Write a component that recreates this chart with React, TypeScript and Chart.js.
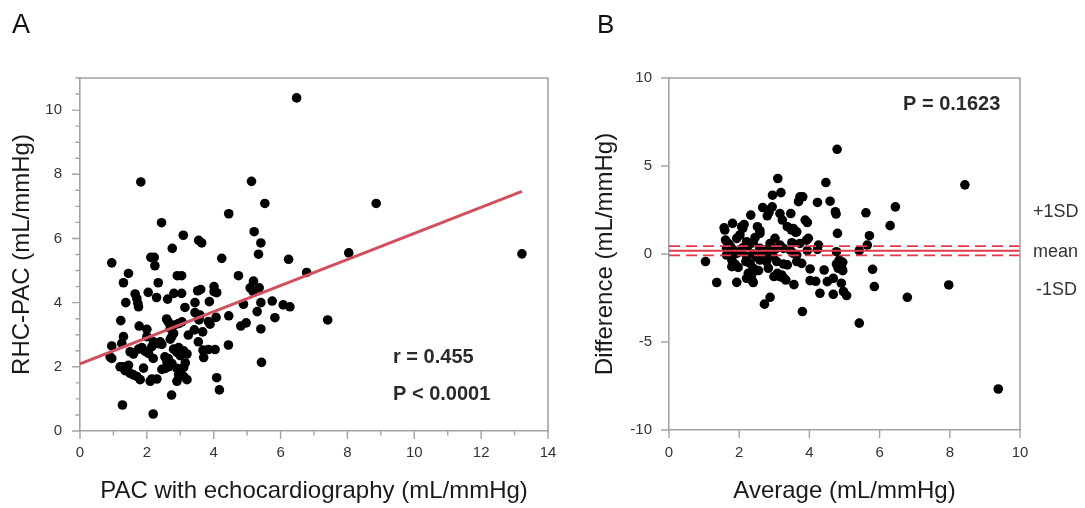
import React, { useEffect, useRef } from "react";
import { Chart, registerables } from "chart.js";

Chart.register(...registerables);

const FONT = "'Liberation Sans', Arial, Helvetica, sans-serif";

// ---------- Panel A: correlation ----------
const echoPAC = [
  6.48, 1.82, 5.13, 5.53, 4.45, 2.44, 5.21, 3.09, 3.55, 3.64, 5.41, 2.76, 8.86, 8.04, 6.78, 7.41, 13.22,
  5.34, 0.95, 2.12, 2.22, 2.24, 4.24, 6.24, 1.45, 1.3, 2.34, 2.91, 3.04, 4.74, 5.19, 1.65, 1.7, 1.73,
  1.75, 1.37, 2.04, 2.29, 2.62, 2.81, 3.04, 3.14, 3.44, 3.52, 3.61, 3.87, 4.01, 4.01, 4.09, 5.09, 5.18,
  5.36, 4.89, 5.41, 5.75, 6.08, 6.28, 5.3, 5.83, 5.41, 4.45, 4.07, 3.84, 3.59, 3.55, 4.81, 4.97, 1.22,
  1.77, 2.0, 2.59, 2.64, 2.7, 2.82, 2.95, 3.05, 3.42, 3.67, 3.24, 3.54, 1.3, 1.25, 2.0, 2.15, 2.35, 2.4,
  2.7, 2.75, 2.8, 0.95, 0.9, 0.95, 1.5, 1.6, 1.75, 1.85, 1.95, 2.05, 2.19, 2.54, 2.64, 2.8, 2.9, 2.95,
  3.0, 3.1, 3.2, 3.68, 3.7, 3.84, 4.04, 4.44, 1.2, 1.28, 1.4, 1.35, 1.5, 1.6, 1.7, 1.8, 1.9, 2.1, 2.15,
  2.3, 2.45, 2.65, 2.75, 2.9, 3.1, 3.1, 3.2, 2.9, 2.74, 4.09, 4.17, 5.43, 1.27, 2.19, 3.44, 3.89, 2.45,
  2.55, 2.95, 2.6, 3.15, 1.45, 2.2, 3.56
];
const rhcPAC = [
  10.38, 7.76, 7.78, 7.09, 6.77, 6.49, 6.21, 6.1, 5.94, 5.86, 5.86, 5.69, 7.09, 5.55, 4.94, 3.46, 5.52,
  5.51, 5.24, 5.41, 5.41, 5.15, 5.38, 5.35, 4.91, 4.62, 4.62, 4.84, 4.84, 4.84, 4.67, 4.27, 4.13, 3.98,
  3.87, 4.0, 4.32, 4.16, 4.11, 4.29, 4.29, 3.85, 4.0, 4.37, 4.41, 4.03, 4.5, 4.34, 4.31, 4.46, 4.34,
  4.46, 3.95, 4.0, 4.05, 3.93, 3.87, 3.72, 3.53, 3.18, 3.59, 3.54, 3.41, 3.61, 3.49, 3.27, 3.37, 3.44,
  3.27, 3.17, 3.49, 3.4, 3.2, 3.3, 3.35, 3.4, 3.15, 3.09, 2.99, 2.78, 2.94, 2.73, 2.94, 2.63, 2.72, 2.78,
  2.86, 2.95, 3.04, 2.65, 2.31, 2.26, 2.47, 2.4, 2.55, 2.6, 2.48, 2.42, 2.26, 2.31, 2.26, 2.55, 2.45, 2.6,
  2.35, 2.5, 2.4, 2.52, 2.29, 2.54, 2.54, 2.68, 2.0, 2.0, 1.98, 1.88, 1.8, 1.75, 1.7, 1.6, 1.96, 1.55, 1.62,
  1.62, 1.92, 2.0, 2.1, 1.95, 1.98, 1.7, 1.6, 1.55, 1.12, 1.66, 1.28, 2.14, 0.81, 0.53, 3.69, 3.33, 2.7,
  1.95, 1.75, 2.15, 2.12, 2.05, 2.78, 3.46
];
const regressionX = [0, 13.22];
const regressionY = [2.09, 7.47];
const aStats = ["r = 0.455", "P < 0.0001"];

// ---------- Panel B: Bland-Altman ----------
const avgPAC = [
  4.79, 3.1, 4.47, 8.43, 2.95, 3.19, 3.73, 3.81, 3.69, 4.59, 4.23, 2.67, 2.94, 6.45, 2.85, 2.8, 3.16, 3.23,
  3.47, 4.74, 4.76, 5.61, 2.33, 3.88, 3.94, 6.3, 1.81, 1.57, 1.59, 2.07, 2.14, 2.52, 2.59, 3.37, 3.54,
  3.61, 4.8, 5.71, 2.02, 1.93, 2.59, 2.45, 3.02, 3.97, 3.92, 1.61, 1.69, 2.21, 2.31, 2.4, 2.88, 3.16,
  3.5, 3.73, 4.26, 5.65, 1.64, 1.83, 2.02, 2.59, 2.73, 2.93, 3.26, 3.45, 3.94, 4.23, 4.77, 5.42, 1.64,
  1.79, 1.93, 2.21, 2.4, 2.5, 2.78, 2.97, 3.54, 3.64, 1.04, 1.79, 1.88, 2.19, 2.31, 2.59, 2.78, 3.07,
  3.26, 3.64, 3.78, 4.95, 4.77, 1.79, 1.97, 2.4, 2.55, 2.83, 3.37, 4.02, 4.42, 4.82, 4.92, 5.8, 2.26,
  2.36, 2.99, 3.09, 3.21, 3.28, 2.21, 2.37, 2.4, 1.93, 1.36, 3.56, 4.02, 4.18, 4.51, 4.68, 4.91, 5.85,
  7.97, 4.3, 4.68, 4.97, 5.06, 2.88, 2.72, 6.79, 3.8, 5.42, 9.38, 4.85, 4.95, 2.1, 2.83, 3.49, 3.64,
  3.16, 3.33, 2.1, 2.25, 2.65, 3.05, 1.75, 1.7
];
const diffPAC = [
  5.95, 4.29, 4.06, 3.93, 3.34, 3.49, 3.25, 3.25, 2.97, 3.0, 2.93, 2.64, 2.68, 2.68, 2.36, 2.17, 2.3, 1.93,
  2.3, 2.4, 2.27, 2.34, 2.21, 1.93, 1.79, 1.61, 1.74, 1.49, 1.36, 1.55, 1.68, 1.55, 1.32, 1.55, 1.45,
  1.23, 1.17, 1.04, 1.08, 0.89, 1.17, 0.93, 0.89, 0.89, 0.79, 0.79, 0.6, 0.7, 0.6, 0.64, 0.6, 0.51,
  0.64, 0.6, 0.51, 0.51, 0.32, 0.23, 0.13, 0.32, 0.23, 0.19, 0.32, 0.23, 0.19, 0.26, 0.13, 0.19, -0.06,
  -0.15, 0.04, -0.15, 0.0, -0.19, 0.04, -0.15, 0.04, -0.06, -0.43, -0.34, -0.57, -0.43, -0.53, -0.34,
  -0.43, -0.43, -0.57, -0.43, -0.53, -0.47, -0.57, -0.72, -0.76, -0.81, -0.94, -0.81, -0.62, -0.85,
  -0.91, -0.81, -0.81, -0.87, -1.1, -1.15, -1.28, -1.1, -1.19, -1.38, -1.38, -1.51, -1.62, -1.61, -1.62,
  -1.74, -1.51, -1.55, -1.57, -1.38, -1.66, -1.85, -1.76, -2.23, -2.29, -2.13, -2.36, -2.46, -2.85,
  -2.46, -3.27, -3.93, -7.67, -0.35, -0.95, 1.45, 2.49, 1.36, 1.26, -1.29, -1.48, 0.35, 0.45, 0.05,
  0.3, 0.45, 0.1
];
const meanDiff = 0.19;
const upperLimit = 0.45;
const lowerLimit = -0.08;
const limitLabels = ["+1SD", "mean", "-1SD"];
const bStats = ["P = 0.1623"];

// ---------- styles ----------
const AXIS_GREY = "#a3a3a3";
const TICK_TEXT = "#333333";
const TITLE_TEXT = "#1a1a1a";
const CANVAS_H = 508;

function toPoints(xs: number[], ys: number[]) {
  return xs.map((x, i) => ({ x, y: ys[i] }));
}

type FrameOpts = {
  xMin: number; xMax: number; xMinor: number; xMajor: number;
  yMin: number; yMax: number; yMinor: number; yMajor: number;
  texts: { t: string; x: number; y: number; font: string; color: string }[];
};

function framePlugin(o: FrameOpts) {
  return {
    id: "frameTicks",
    afterDraw(chart: any) {
      const { ctx, chartArea: ca, scales } = chart;
      const xs = scales.x;
      const ys = scales.y;
      ctx.save();
      ctx.strokeStyle = AXIS_GREY;
      ctx.lineWidth = 1.6;
      ctx.beginPath();
      ctx.moveTo(ca.left, ca.top);
      ctx.lineTo(ca.right, ca.top);
      ctx.lineTo(ca.right, ca.bottom);
      ctx.stroke();
      ctx.lineWidth = 1.4;
      ctx.beginPath();
      const nx = Math.round((o.xMax - o.xMin) / o.xMinor);
      for (let i = 0; i <= nx; i++) {
        const v = o.xMin + i * o.xMinor;
        const r = v / o.xMajor;
        const major = Math.abs(r - Math.round(r)) < 1e-6;
        const px = xs.getPixelForValue(v);
        ctx.moveTo(px, ca.bottom);
        ctx.lineTo(px, ca.bottom + (major ? 8 : 4.5));
      }
      const ny = Math.round((o.yMax - o.yMin) / o.yMinor);
      for (let i = 0; i <= ny; i++) {
        const v = o.yMin + i * o.yMinor;
        const r = v / o.yMajor;
        const major = Math.abs(r - Math.round(r)) < 1e-6;
        const py = ys.getPixelForValue(v);
        ctx.moveTo(ca.left, py);
        ctx.lineTo(ca.left - (major ? 8 : 4.5), py);
      }
      ctx.stroke();
      ctx.textAlign = "left";
      ctx.textBaseline = "alphabetic";
      for (const t of o.texts) {
        ctx.font = t.font;
        ctx.fillStyle = t.color;
        ctx.fillText(t.t, t.x, t.y);
      }
      ctx.restore();
    },
  };
}

function axisCommon(min: number, max: number, step: number, pad: number) {
  return {
    type: "linear" as const,
    min,
    max,
    grid: { display: false, drawTicks: false },
    border: { display: true, color: AXIS_GREY, width: 1.6 },
    ticks: {
      stepSize: step,
      includeBounds: false,
      padding: pad,
      color: TICK_TEXT,
      font: { family: FONT, size: 15 },
    },
  };
}

function fixX(h: number) {
  return (s: any) => {
    s.height = h;
    s.paddingLeft = 0;
    s.paddingRight = 0;
  };
}
function fixY(w: number) {
  return (s: any) => {
    s.width = w;
    s.paddingTop = 0;
    s.paddingBottom = 0;
  };
}

function configA(): any {
  return {
    type: "scatter",
    data: {
      datasets: [
        {
          data: toPoints(regressionX, regressionY),
          showLine: true,
          borderColor: "#d2505e",
          borderWidth: 3,
          pointRadius: 0,
          order: 0,
        },
        {
          data: toPoints(echoPAC, rhcPAC),
          backgroundColor: "#000",
          borderWidth: 0,
          pointRadius: 4.8,
          order: 1,
        },
      ],
    },
    options: {
      responsive: false,
      animation: false,
      devicePixelRatio: 1,
      layout: { padding: { left: 0, top: 78, right: 565 - 548, bottom: 0 } },
      plugins: { legend: { display: false }, tooltip: { enabled: false } },
      scales: {
        x: {
          ...axisCommon(0, 14, 2, 13),
          afterFit: fixX(CANVAS_H - 431),
          title: {
            display: true,
            text: "PAC with echocardiography (mL/mmHg)",
            color: TITLE_TEXT,
            font: { family: FONT, size: 24 },
            padding: { top: 0, bottom: 2 },
          },
        },
        y: {
          ...axisCommon(0, 11, 2, 18),
          afterFit: fixY(80),
          title: {
            display: true,
            text: "RHC-PAC (mL/mmHg)",
            color: TITLE_TEXT,
            font: { family: FONT, size: 24 },
            padding: { top: 8, bottom: 0 },
          },
        },
      },
    },
    plugins: [
      framePlugin({
        xMin: 0, xMax: 14, xMinor: 1, xMajor: 2,
        yMin: 0, yMax: 11, yMinor: 0.5, yMajor: 2,
        texts: [
          { t: "A", x: 12, y: 33, font: `27px ${FONT}`, color: "#111" },
          { t: aStats[0], x: 393, y: 363, font: `bold 20px ${FONT}`, color: "#2a2a2a" },
          { t: aStats[1], x: 393, y: 400, font: `bold 20px ${FONT}`, color: "#2a2a2a" },
        ],
      }),
    ],
  };
}

const B_LEFT = 565;

function configB(): any {
  const lineSet = (y: number, dashed: boolean) => ({
    data: toPoints([0, 10], [y, y]),
    showLine: true,
    borderColor: "#e2394a",
    borderWidth: dashed ? 1.6 : 2,
    borderDash: dashed ? [11, 6] : [],
    pointRadius: 0,
    order: 0,
  });
  return {
    type: "scatter",
    data: {
      datasets: [
        lineSet(meanDiff, false),
        lineSet(upperLimit, true),
        lineSet(lowerLimit, true),
        {
          data: toPoints(avgPAC, diffPAC),
          backgroundColor: "#000",
          borderWidth: 0,
          pointRadius: 4.8,
          order: 1,
        },
      ],
    },
    options: {
      responsive: false,
      animation: false,
      devicePixelRatio: 1,
      layout: { padding: { left: 0, top: 78, right: 1085 - 1020, bottom: 0 } },
      plugins: { legend: { display: false }, tooltip: { enabled: false } },
      scales: {
        x: {
          ...axisCommon(0, 10, 2, 14),
          afterFit: fixX(CANVAS_H - 430),
          title: {
            display: true,
            text: "Average (mL/mmHg)",
            color: TITLE_TEXT,
            font: { family: FONT, size: 24 },
            padding: { top: 0, bottom: 2 },
          },
        },
        y: {
          ...axisCommon(-10, 10, 5, 17),
          afterFit: fixY(669 - B_LEFT),
          title: {
            display: true,
            text: "Difference (mL/mmHg)",
            color: TITLE_TEXT,
            font: { family: FONT, size: 24 },
            padding: { top: 26, bottom: 0 },
          },
        },
      },
    },
    plugins: [
      framePlugin({
        xMin: 0, xMax: 10, xMinor: 2, xMajor: 2,
        yMin: -10, yMax: 10, yMinor: 5, yMajor: 5,
        texts: [
          { t: "B", x: 597 - B_LEFT, y: 33, font: `26px ${FONT}`, color: "#111" },
          { t: bStats[0], x: 903 - B_LEFT, y: 109.5, font: `bold 20px ${FONT}`, color: "#2a2a2a" },
          { t: limitLabels[0], x: 1033 - B_LEFT, y: 216.5, font: `18px ${FONT}`, color: "#333" },
          { t: limitLabels[1], x: 1033 - B_LEFT, y: 256.5, font: `18px ${FONT}`, color: "#333" },
          { t: limitLabels[2], x: 1036 - B_LEFT, y: 295, font: `18px ${FONT}`, color: "#333" },
        ],
      }),
    ],
  };
}

function Panel({ make, left, width }: { make: () => any; left: number; width: number }) {
  const ref = useRef<HTMLCanvasElement>(null);
  useEffect(() => {
    const chart = new Chart(ref.current as HTMLCanvasElement, make());
    return () => chart.destroy();
  }, []);
  return (
    <canvas
      ref={ref}
      width={width}
      height={CANVAS_H}
      style={{ position: "absolute", left, top: 0, width, height: CANVAS_H }}
    />
  );
}

export default function App() {
  return (
    <div style={{ position: "absolute", left: 0, top: 0, width: 1085, height: CANVAS_H, background: "#fff" }}>
      <Panel make={configA} left={0} width={B_LEFT} />
      <Panel make={configB} left={B_LEFT} width={1085 - B_LEFT} />
    </div>
  );
}
